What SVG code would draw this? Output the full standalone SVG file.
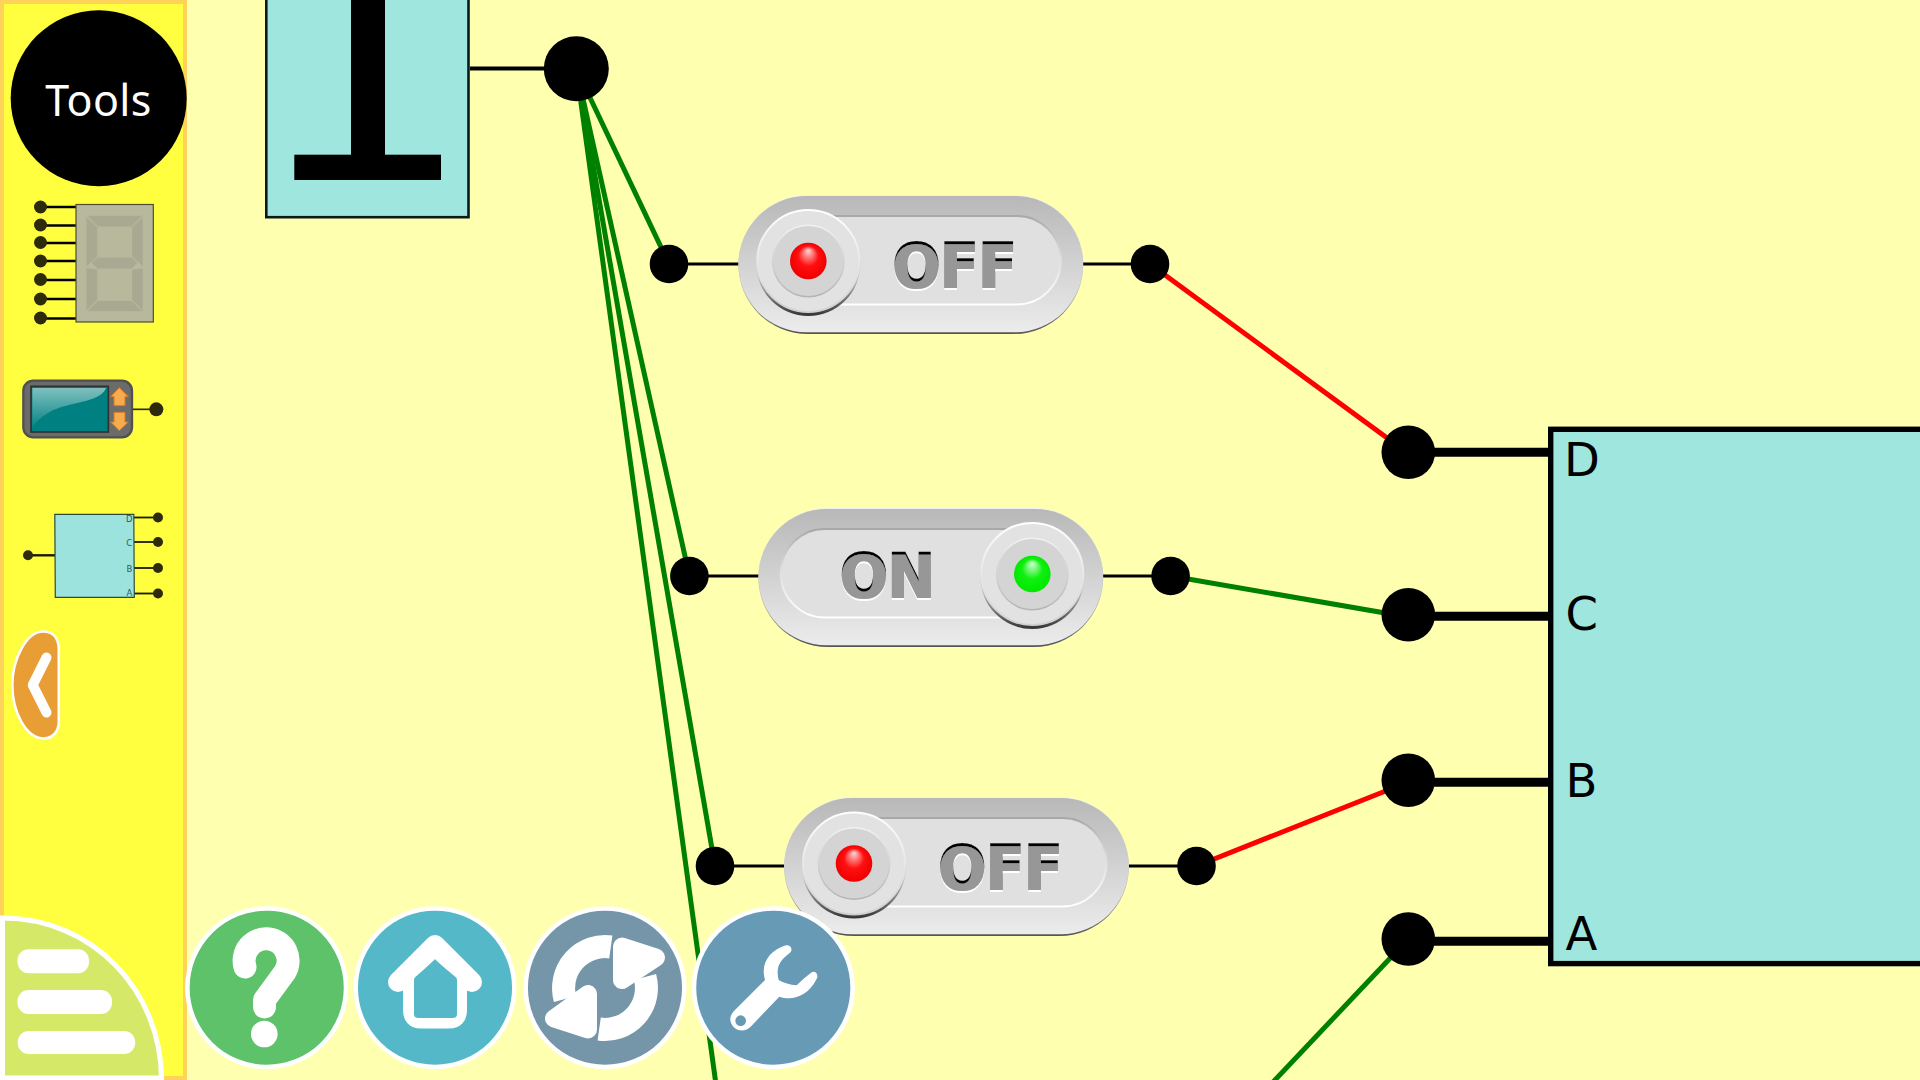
<svg xmlns="http://www.w3.org/2000/svg" xmlns:xlink="http://www.w3.org/1999/xlink" width="1920" height="1080" viewBox="0 0 1920 1080">
<style>
.wire{stroke-width:5;fill:none}
.g{stroke:#008000}.r{stroke:#ff0000}
.stub{stroke:#000;stroke-width:2.8}
.lead{stroke:#000;stroke-width:9}
.dot{fill:#000}
.lbl{font-family:"DejaVu Sans",sans-serif;font-size:46.5px;fill:#000}
.sw{font-family:"DejaVu Sans",sans-serif;font-weight:bold;font-size:60px;fill:#979797;stroke:#979797;stroke-width:2.2;text-anchor:middle}
.tl{stroke:#000;stroke-width:2.4}
.tdot{fill:#2e2b0d}
.seg{fill:#a9a992;stroke:#b8b89e;stroke-width:1.5}
.mini{font-family:"DejaVu Sans",sans-serif;font-size:8.5px;fill:#2f5a58;text-anchor:middle}
.ring{stroke:#fff;stroke-width:4.5}
.ico{fill:#fff}
</style>
<defs>
<linearGradient id="bodyG" x1="0" y1="0" x2="0" y2="1"><stop offset="0" stop-color="#b8b8b8"/><stop offset="1" stop-color="#ececec"/></linearGradient>
<linearGradient id="rimG" x1="0" y1="0" x2="0" y2="1"><stop offset="0" stop-color="#f2f2f2"/><stop offset=".6" stop-color="#c0c0c0"/><stop offset="1" stop-color="#555"/></linearGradient>
<linearGradient id="trackS" x1="0" y1="0" x2="0" y2="1"><stop offset="0" stop-color="#a8a8a8"/><stop offset=".45" stop-color="#ddd"/><stop offset="1" stop-color="#fff"/></linearGradient>
<linearGradient id="shadowG" x1="0" y1="0" x2="0" y2="1"><stop offset=".6" stop-color="#ccc"/><stop offset="1" stop-color="#333"/></linearGradient>
<linearGradient id="knobS" x1="0" y1="0" x2="0" y2="1"><stop offset="0" stop-color="#fff"/><stop offset="1" stop-color="#d0d0d0"/></linearGradient>
<linearGradient id="capS" x1="0" y1="0" x2="0" y2="1"><stop offset="0" stop-color="#f2f2f2"/><stop offset="1" stop-color="#b4b4b4"/></linearGradient>
<radialGradient id="ledR" cx=".5" cy=".5" r=".5" fx=".5" fy=".2"><stop offset="0" stop-color="#ffd8d8"/><stop offset=".55" stop-color="#ff1010"/><stop offset="1" stop-color="#f00000"/></radialGradient>
<radialGradient id="ledG" cx=".5" cy=".5" r=".5" fx=".5" fy=".2"><stop offset="0" stop-color="#d8ffd8"/><stop offset=".55" stop-color="#10f010"/><stop offset="1" stop-color="#00e800"/></radialGradient>
<linearGradient id="gloss" x1="0" y1="0" x2="0" y2="1"><stop offset="0" stop-color="#fff" stop-opacity=".5"/><stop offset="1" stop-color="#fff" stop-opacity=".02"/></linearGradient>
<filter id="emboss" x="-10%" y="-15%" width="120%" height="130%">
<feOffset in="SourceAlpha" dy="3" result="down"/>
<feComposite in="SourceAlpha" in2="down" operator="out" result="topEdge"/>
<feFlood flood-color="#000"/><feComposite in2="topEdge" operator="in" result="dark"/>
<feOffset in="SourceAlpha" dy="2" result="low"/>
<feComposite in="low" in2="SourceAlpha" operator="out" result="lowEdge"/>
<feFlood flood-color="#fff"/><feComposite in2="lowEdge" operator="in" result="light"/>
<feMerge><feMergeNode in="light"/><feMergeNode in="SourceGraphic"/><feMergeNode in="dark"/></feMerge>
</filter>
<g id="swBody">
<rect x="0" y="0" width="345" height="139" rx="69.5" fill="url(#rimG)"/>
<rect x="0.3" y="1" width="344.4" height="136.3" rx="68" fill="url(#bodyG)"/>
<rect x="22.5" y="21" width="300" height="88.5" rx="44" fill="#e0e0e0" stroke="url(#trackS)" stroke-width="2"/>
</g>
<g id="knob">
<circle cx="0" cy="3" r="52" fill="url(#shadowG)"/>
<circle cx="0" cy="0" r="51" fill="#e2e2e2" stroke="url(#knobS)" stroke-width="2"/>
<circle cx="0" cy="0" r="35.7" fill="#d4d4d4" stroke="url(#capS)" stroke-width="1.5"/>
</g>
</defs>

<rect id="background" width="1920" height="1080" fill="#ffffb0"/>

<g id="connectors">
<line class="wire g" x1="576.3" y1="68.7" x2="669" y2="264"/>
<line class="wire g" x1="576.3" y1="68.7" x2="689.4" y2="576"/>
<line class="wire g" x1="576.3" y1="68.7" x2="715" y2="866"/>
<line class="wire g" x1="576.3" y1="68.7" x2="725" y2="1150"/>
<line class="wire r" x1="1150" y1="264" x2="1408.3" y2="453.5"/>
<line class="wire g" x1="1170.6" y1="576" x2="1408.3" y2="617"/>
<line class="wire r" x1="1196.5" y1="866" x2="1408.3" y2="782"/>
<line class="wire g" x1="1408.3" y1="939" x2="1240" y2="1117"/>
<line x1="470" y1="68.5" x2="545" y2="68.5" stroke="#000" stroke-width="4"/>
<line class="stub" x1="669" y1="264" x2="740" y2="264"/>
<line class="stub" x1="1083" y1="264" x2="1150" y2="264"/>
<line class="stub" x1="689.4" y1="576" x2="760" y2="576"/>
<line class="stub" x1="1103" y1="576" x2="1170.6" y2="576"/>
<line class="stub" x1="715" y1="866" x2="786" y2="866"/>
<line class="stub" x1="1129" y1="866" x2="1196.5" y2="866"/>
<line class="lead" x1="1408.3" y1="452.3" x2="1552" y2="452.3"/>
<line class="lead" x1="1408.3" y1="616.3" x2="1552" y2="616.3"/>
<line class="lead" x1="1408.3" y1="782.3" x2="1552" y2="782.3"/>
<line class="lead" x1="1408.3" y1="941.3" x2="1552" y2="941.3"/>
</g>

<g id="ground-box">
<rect x="266.3" y="-10" width="202.2" height="227.2" fill="#9fe6df" stroke="#0a1a1a" stroke-width="2.6"/>
<rect x="351" y="-2" width="34" height="160" fill="#000"/>
<rect x="294.3" y="154.7" width="146.7" height="25.3" fill="#000"/>
</g>
<circle id="source-pin" class="dot" cx="576.3" cy="68.7" r="32.5"/>

<g id="switch-1">
<circle class="dot" cx="669" cy="264" r="19.3"/>
<circle class="dot" cx="1150" cy="264" r="19.3"/>
<use href="#swBody" x="738.3" y="195"/>
<use href="#knob" x="808.3" y="261"/>
<circle cx="808.3" cy="261" r="18.3" fill="url(#ledR)"/>
<text class="sw" x="954.7" y="287" textLength="124" lengthAdjust="spacingAndGlyphs" filter="url(#emboss)">OFF</text>
</g>
<g id="switch-2">
<circle class="dot" cx="689.4" cy="576" r="19.3"/>
<circle class="dot" cx="1170.6" cy="576" r="19.3"/>
<use href="#swBody" x="758.3" y="508"/>
<use href="#knob" x="1032.3" y="574"/>
<circle cx="1032.3" cy="574" r="18.3" fill="url(#ledG)"/>
<text class="sw" x="887.5" y="597.3" textLength="95" lengthAdjust="spacingAndGlyphs" filter="url(#emboss)">ON</text>
</g>
<g id="switch-3">
<circle class="dot" cx="715" cy="866" r="19.3"/>
<circle class="dot" cx="1196.5" cy="866" r="19.3"/>
<use href="#swBody" x="784" y="797"/>
<use href="#knob" x="854" y="863.5"/>
<circle cx="854" cy="863.5" r="18.3" fill="url(#ledR)"/>
<text class="sw" x="1000.4" y="889" textLength="124" lengthAdjust="spacingAndGlyphs" filter="url(#emboss)">OFF</text>
</g>

<g id="decoder">
<rect x="1550.7" y="429.3" width="420" height="534.3" fill="#9fe6df" stroke="#000" stroke-width="5.4"/>
<text class="lbl" x="1564" y="475.7">D</text>
<text class="lbl" x="1565.4" y="630">C</text>
<text class="lbl" x="1565.4" y="797.3">B</text>
<text class="lbl" x="1565.5" y="950">A</text>
<circle class="dot" cx="1408.3" cy="452.3" r="26.8"/>
<circle class="dot" cx="1408.3" cy="614.7" r="26.8"/>
<circle class="dot" cx="1408.3" cy="780.3" r="26.8"/>
<circle class="dot" cx="1408.3" cy="939" r="26.8"/>
</g>

<g id="sidebar">
<rect x="2" y="2" width="183" height="1076" fill="#ffff40" stroke="#ffd35a" stroke-width="4"/>
</g>

<g id="tools">
<circle cx="98.7" cy="98.3" r="88" fill="#000"/>
<text x="98.5" y="115.7" font-family="'Noto Sans',sans-serif" font-size="43" letter-spacing=".4" fill="#fff" text-anchor="middle">Tools</text>
</g>

<g id="tool-7seg">
<g class="tl">
<line x1="41" y1="207" x2="76" y2="207"/><line x1="41" y1="225.5" x2="76" y2="225.5"/><line x1="41" y1="243" x2="76" y2="243"/><line x1="41" y1="261" x2="76" y2="261"/><line x1="41" y1="280" x2="76" y2="280"/><line x1="41" y1="299" x2="76" y2="299"/><line x1="41" y1="318.5" x2="76" y2="318.5"/>
</g>
<g class="tdot">
<circle cx="40.5" cy="207" r="6.5"/><circle cx="40.5" cy="225" r="6.5"/><circle cx="40.5" cy="242.5" r="6.5"/><circle cx="40.5" cy="261" r="6.5"/><circle cx="40.5" cy="279.5" r="6.5"/><circle cx="40.5" cy="299" r="6.5"/><circle cx="40.5" cy="318" r="6.5"/>
</g>
<rect x="76" y="204.5" width="77.3" height="117.5" fill="#b8b89c" stroke="#4d4d33" stroke-width="1.2"/>
<g transform="scale(.33333)">
<polygon class="seg" points="262,647 428,647 395,680 293,680"/>
<polygon class="seg" points="259,650 292,682 292,770 259,800"/>
<polygon class="seg" points="429,650 396,682 396,770 429,800"/>
<polygon class="seg" points="293,772 395,772 412,788 395,806 293,806 274,788"/>
<polygon class="seg" points="259,804 292,808 292,900 259,932"/>
<polygon class="seg" points="429,804 396,808 396,900 429,932"/>
<polygon class="seg" points="262,934 428,934 395,902 293,902"/>
</g>
</g>

<g id="tool-display" transform="translate(0,360) scale(.33333)">
<line x1="399" y1="148" x2="460" y2="148" stroke="#2e2b0d" stroke-width="5"/>
<circle class="tdot" cx="469" cy="148" r="21"/>
<rect x="70" y="62" width="326" height="170" rx="30" fill="#6b6b6b" stroke="#505050" stroke-width="7"/>
<rect x="93" y="79" width="232" height="137" fill="#008080" stroke="#2c3332" stroke-width="5"/>
<path d="M97,84 H318 C300,130 205,125 150,155 C125,170 105,185 97,205 Z" fill="url(#gloss)"/>
<polygon points="358,83 385,110 375,110 375,137 342,137 342,110 332,110" fill="#f6ab4c" stroke="#d97a1e" stroke-width="3"/>
<polygon points="358,212 385,186 375,186 375,157 342,157 342,186 332,186" fill="#f6ab4c" stroke="#d97a1e" stroke-width="3"/>
</g>

<g id="tool-decoder">
<line x1="28" y1="555.3" x2="55" y2="555.3" stroke="#1a1a05" stroke-width="2.4"/>
<line x1="134" y1="517.5" x2="158" y2="517.5" stroke="#1a1a05" stroke-width="1.8"/>
<line x1="134" y1="542" x2="158" y2="542" stroke="#1a1a05" stroke-width="1.8"/>
<line x1="134" y1="568" x2="158" y2="568" stroke="#1a1a05" stroke-width="1.8"/>
<line x1="134" y1="593.5" x2="158" y2="593.5" stroke="#1a1a05" stroke-width="1.8"/>
<polygon points="54.8,514.3 133.8,514.3 134.3,597.3 55.3,597.3" fill="#9ce3dd" stroke="#2a4a40" stroke-width="1.2"/>
<text class="mini" x="129.3" y="521.5">D</text>
<text class="mini" x="129.3" y="545.5">C</text>
<text class="mini" x="129.3" y="572">B</text>
<text class="mini" x="129.3" y="596">A</text>
<circle class="tdot" cx="28" cy="555.3" r="5"/>
<circle class="tdot" cx="158" cy="517.5" r="5"/>
<circle class="tdot" cx="158" cy="542" r="5"/>
<circle class="tdot" cx="158" cy="568" r="5"/>
<circle class="tdot" cx="158" cy="593.5" r="5"/>
</g>

<g id="back-button">
<path d="M43,631.5 C53,631.5 58.8,638 58.8,650 L58.8,722 C58.8,732 52,738.5 44,738.5 C26,738.5 12.3,712 12.3,685 C12.3,660 26,631.5 43,631.5 Z" fill="#e99d35" stroke="#fff" stroke-width="2.6"/>
<polyline points="46.5,657.5 32.7,685 46.5,712.5" fill="none" stroke="#fff" stroke-width="10" stroke-linecap="round" stroke-linejoin="round"/>
</g>

<g id="menu-button">
<path d="M2.5,1080 V918 C92,918 161.5,990 161.5,1080 Z" fill="#d5e868" stroke="#fff" stroke-width="5"/>
<rect x="0" y="1075.5" width="164" height="4.5" fill="#fff"/>
<rect x="0" y="918" width="5" height="162" fill="#fff"/>
<rect class="ico" x="17.5" y="949.3" width="71.5" height="24" rx="11"/>
<rect class="ico" x="17.5" y="990" width="94.5" height="24" rx="11"/>
<rect class="ico" x="17.7" y="1031" width="117.5" height="23" rx="11"/>
</g>

<g id="help-button">
<circle class="ring" cx="266.7" cy="987.7" r="79.3" fill="#5ec26a"/>
<path d="M245,967 A22,22 0 1 1 285,972 L264.5,1000 L264.5,1007" fill="none" stroke="#fff" stroke-width="23" stroke-linecap="round" stroke-linejoin="round"/>
<circle class="ico" cx="264.3" cy="1034" r="13.3"/>
</g>

<g id="home-button">
<circle class="ring" cx="435" cy="987.7" r="79.3" fill="#55b8c9"/>
<path d="M398,982 L435,945 L472,982" fill="none" stroke="#fff" stroke-width="20" stroke-linecap="round" stroke-linejoin="round"/>
<path d="M408.5,975 V1010 Q408.5,1023 421,1023 H449 Q461.5,1023 461.5,1010 V975" fill="none" stroke="#fff" stroke-width="11"/>
<path d="M418,980 L435,965 L453,980 V1014 H418 Z" fill="#55b8c9" stroke="#55b8c9" stroke-width="8" stroke-linejoin="round"/>
</g>

<g id="refresh-button">
<circle class="ring" cx="605" cy="987.7" r="79.3" fill="#7596a8"/>
<path d="M565,999 A41.5,41.5 0 0 1 610.8,947" fill="none" stroke="#fff" stroke-width="23"/>
<path d="M645,977 A41.5,41.5 0 0 1 599.2,1029" fill="none" stroke="#fff" stroke-width="23"/>
<polygon points="622,946.5 656,957.5 622,980" fill="#fff" stroke="#fff" stroke-width="18" stroke-linejoin="round"/>
<polygon points="588,1029.5 554,1018.5 588,994" fill="#fff" stroke="#fff" stroke-width="18" stroke-linejoin="round"/>
</g>

<g id="settings-button">
<circle class="ring" cx="773.3" cy="987.7" r="79.3" fill="#669ab5"/>
<g transform="translate(500,890) scale(.33333)">
<path class="ico" d="M858,166 C872,164 880,178 870,188 C845,208 825,225 836,270 C850,278 870,285 890,286 C905,272 920,258 935,247 C948,240 958,258 948,270 C925,315 880,335 838,320 L752,410 C735,428 700,425 692,395 C688,382 695,370 705,360 L795,270 C780,220 810,180 858,166 Z"/>
<circle cx="722" cy="392" r="16" fill="#669ab5"/>
</g>
</g>
</svg>
